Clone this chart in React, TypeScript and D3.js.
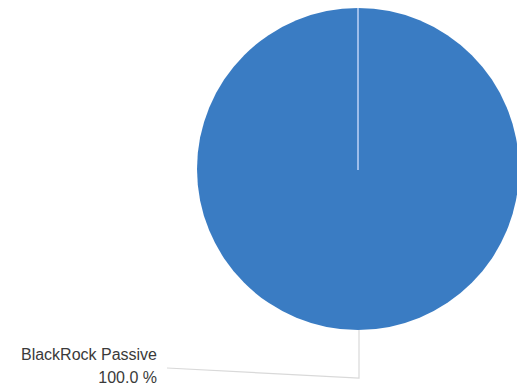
import React from "react";
import * as d3 from "d3";

const categories = ["BlackRock Passive"];
const values = [100.0];
const labels = ["100.0 %"];

const W = 517;
const H = 390;
const cx = 358;
const cy = 169;
const R = 161;

export default function App() {
  const pie = d3.pie<number>().sort(null).value((d) => d)(values);
  const arc = d3.arc<d3.PieArcDatum<number>>().innerRadius(0).outerRadius(R);
  const total = d3.sum(values);

  return (
    <svg
      width={W}
      height={H}
      style={{ position: "absolute", left: 0, top: 0 }}
      fontFamily="'Liberation Sans', Arial, sans-serif"
    >
      <rect width={W} height={H} fill="#ffffff" />
      <g transform={`translate(${cx},${cy})`}>
        {pie.map((p, i) => {
          const a0 = p.startAngle;
          const mid = (p.startAngle + p.endAngle) / 2;
          const ex = Math.sin(mid) * R;
          const ey = -Math.cos(mid) * R;
          const ly = ey + 48;
          return (
            <g key={categories[i]}>
              <path d={arc(p) || ""} fill="#3a7cc3" />
              <line
                x1={0}
                y1={1}
                x2={Math.sin(a0) * R}
                y2={-Math.cos(a0) * R}
                stroke="#9dbdea"
                strokeWidth={2}
              />
              <polyline
                points={`${ex + 1},${ey} ${ex + 1},${ly} ${-191},${ly - 10}`}
                fill="none"
                stroke="#d9d9d9"
                strokeWidth={1.2}
              />
              <text
                x={-201}
                y={ey + 30}
                textAnchor="end"
                fontSize={16}
                fill="#3a3a3a"
              >
                {categories[i]}
              </text>
              <text
                x={-201}
                y={ey + 53}
                textAnchor="end"
                fontSize={16}
                fill="#3a3a3a"
              >
                {labels[i] ?? `${((p.value / total) * 100).toFixed(1)} %`}
              </text>
            </g>
          );
        })}
      </g>
    </svg>
  );
}
